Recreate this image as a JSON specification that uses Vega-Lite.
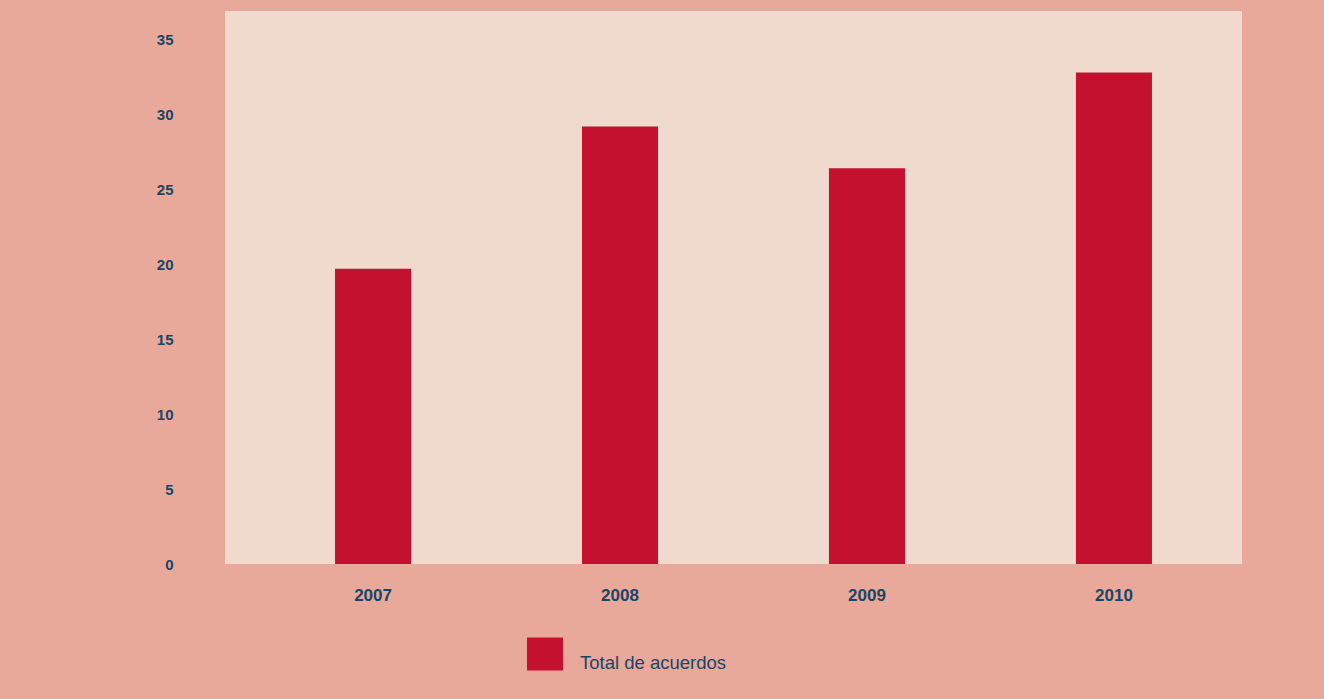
{
  "$schema": "https://vega.github.io/schema/vega-lite/v6.json",
  "autosize": {"type": "none"},
  "width": 1017,
  "height": 553,
  "padding": {"left": 225, "top": 11, "right": 82, "bottom": 135},
  "background": "#E8A99B",
  "config": {
    "view": {"fill": "#F0D9CD", "stroke": null},
    "font": "Liberation Sans"
  },
  "data": {
    "values": [
      {"anio": "2007", "serie": "Total de acuerdos", "valor": 19.7},
      {"anio": "2008", "serie": "Total de acuerdos", "valor": 29.2},
      {"anio": "2009", "serie": "Total de acuerdos", "valor": 26.4},
      {"anio": "2010", "serie": "Total de acuerdos", "valor": 32.8}
    ]
  },
  "mark": {"type": "bar"},
  "encoding": {
    "x": {
      "field": "anio",
      "type": "nominal",
      "scale": {"paddingInner": 0.692, "paddingOuter": 0.405, "align": 0.55},
      "axis": {
        "title": null,
        "domain": false,
        "ticks": false,
        "tickSize": 0,
        "grid": false,
        "labelAngle": 0,
        "labelFontSize": 17,
        "labelFontWeight": "bold",
        "labelColor": "#1A4466",
        "labelBaseline": "middle",
        "labelPadding": 31
      }
    },
    "y": {
      "field": "valor",
      "type": "quantitative",
      "scale": {"domain": [0, 36.9], "nice": false, "zero": true},
      "axis": {
        "title": null,
        "domain": false,
        "ticks": false,
        "tickSize": 0,
        "grid": false,
        "values": [0, 5, 10, 15, 20, 25, 30, 35],
        "labelFontSize": 15,
        "labelFontWeight": "bold",
        "labelColor": "#1A4466",
        "labelPadding": 52
      }
    },
    "color": {
      "field": "serie",
      "type": "nominal",
      "scale": {"range": ["#C4112F"]},
      "legend": {
        "title": null,
        "orient": "none",
        "legendX": 302,
        "legendY": 625,
        "padding": 0,
        "symbolType": "M-1,-0.917H1V0.917H-1Z",
        "symbolSize": 1296,
        "symbolStrokeWidth": 0,
        "symbolOpacity": 1,
        "labelFontSize": 18.5,
        "labelColor": "#1A4466",
        "labelBaseline": "top",
        "labelOffset": 17
      }
    }
  }
}
